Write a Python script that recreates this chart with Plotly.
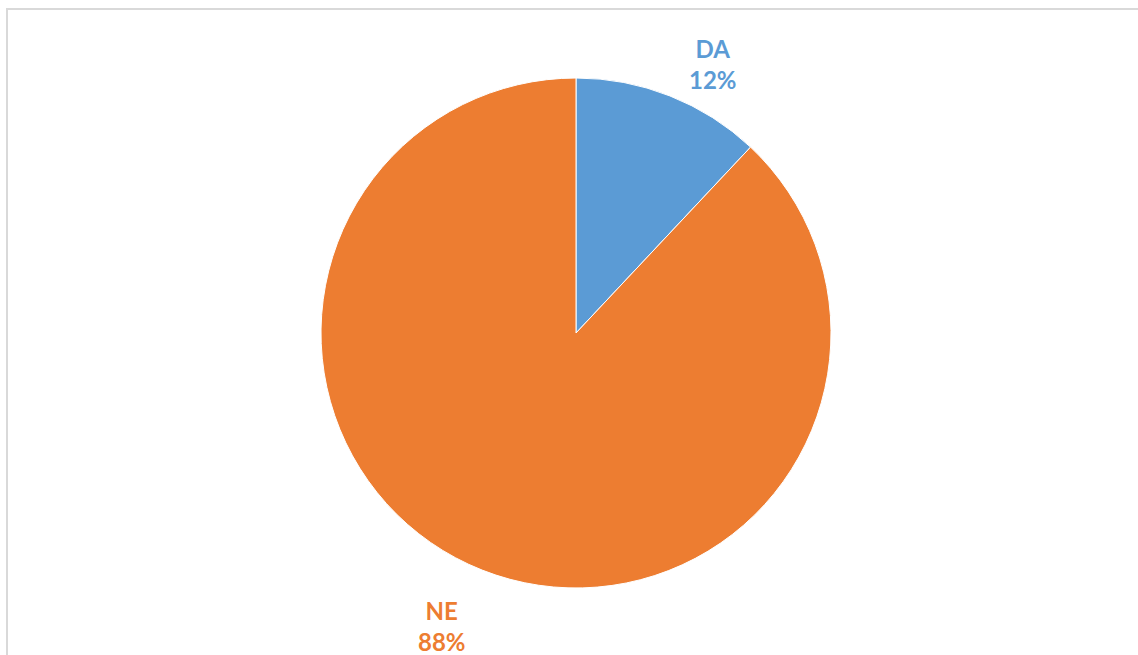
import plotly.graph_objects as go

labels = ["DA", "NE"]
values = [12, 88]
colors = ["#5B9BD5", "#ED7D31"]

W, H = 1138, 655
cx, cy, r = 576, 333, 255

fig = go.Figure(go.Pie(
    labels=labels,
    values=values,
    sort=False,
    direction="clockwise",
    rotation=0,
    marker=dict(colors=colors, line=dict(color="white", width=1)),
    textinfo="none",
    hoverinfo="label+percent",
    showlegend=False,
    domain=dict(x=[(cx - r) / W, (cx + r) / W], y=[1 - (cy + r) / H, 1 - (cy - r) / H]),
))

total = sum(values)
label_pos = [(713, 64), (442, 626)]
for lab, val, col, (lx, ly) in zip(labels, values, colors, label_pos):
    fig.add_annotation(
        x=lx / W, y=1 - ly / H, xref="paper", yref="paper",
        xanchor="center", yanchor="middle",
        text=f"<b>{lab}</b><br><b>{round(100 * val / total)}%</b>",
        showarrow=False, align="center",
        font=dict(family="Lato, Open Sans, sans-serif", size=24, color=col),
    )

fig.add_shape(type="rect", xref="paper", yref="paper",
              x0=7 / W, y0=1 - 700 / H, x1=1200 / W, y1=1 - 9 / H,
              line=dict(color="#D9D9D9", width=2), layer="below")

fig.update_layout(
    width=W, height=H,
    margin=dict(l=0, r=0, t=0, b=0),
    paper_bgcolor="white", plot_bgcolor="white",
)

fig.write_html("out.html", config={"displayModeBar": False},
               post_script="document.body.style.margin='0';document.body.style.overflow='hidden';")
